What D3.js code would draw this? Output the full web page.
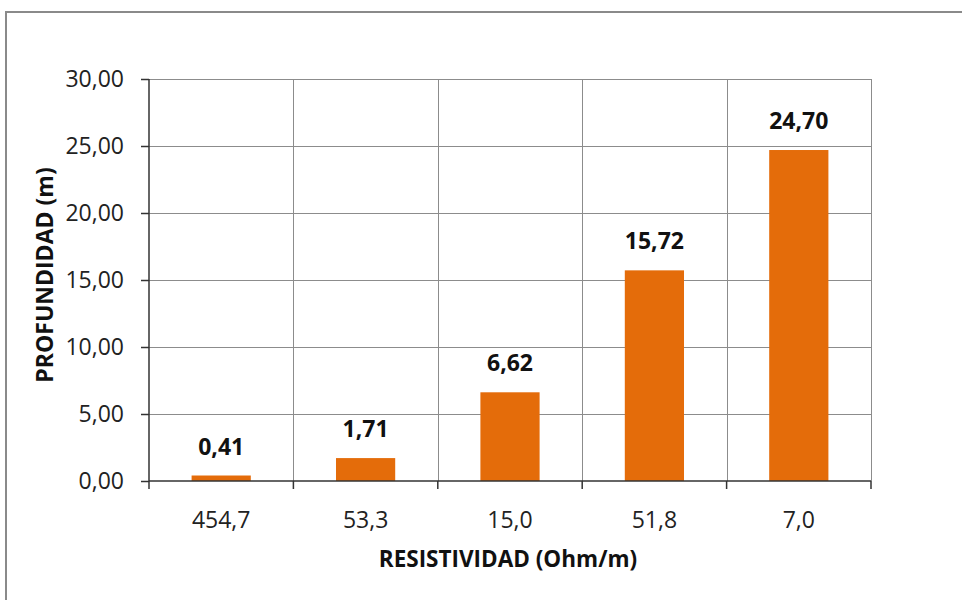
<!DOCTYPE html>
<html>
<head>
<meta charset="utf-8">
<script src="https://cdnjs.cloudflare.com/ajax/libs/d3/7.8.5/d3.min.js"></script>
<style>
  html, body { margin: 0; padding: 0; background: #fff; }
  svg { display: block; font-family: "Open Sans", "Noto Sans", sans-serif; }
</style>
</head>
<body>
<svg id="chart" width="962" height="600"></svg>
<script>
// Resistivity of each layer (category labels) and its depth in metres
const resistividad = ["454,7", "53,3", "15,0", "51,8", "7,0"];
const profundidad = [0.41, 1.71, 6.62, 15.72, 24.70];
const yTicks = [0, 5, 10, 15, 20, 25, 30];

const svg = d3.select("#chart");
const plot = { left: 149, right: 871, top: 79, bottom: 481 };
const fmt = v => v.toFixed(2).replace(".", ",");

// Outer chart frame
svg.append("rect")
  .attr("x", 6).attr("y", 12)
  .attr("width", 980).attr("height", 620)
  .attr("fill", "none")
  .attr("stroke", "#8a8a8a")
  .attr("stroke-width", 2);

const x = d3.scaleBand().domain(resistividad).range([plot.left, plot.right]).padding(0);
const y = d3.scaleLinear().domain([0, 30]).range([plot.bottom, plot.top]);

// Horizontal gridlines
svg.append("g").selectAll("line").data(yTicks.slice(1)).join("line")
  .attr("x1", plot.left).attr("x2", plot.right)
  .attr("y1", d => Math.round(y(d)) + 0.5).attr("y2", d => Math.round(y(d)) + 0.5)
  .attr("stroke", "#8c8c8c").attr("stroke-width", 1);

// Vertical gridlines at category boundaries
const bounds = resistividad.map(c => x(c)).concat([plot.right]).slice(1);
svg.append("g").selectAll("line").data(bounds).join("line")
  .attr("x1", d => Math.round(d) + 0.5).attr("x2", d => Math.round(d) + 0.5)
  .attr("y1", plot.top).attr("y2", plot.bottom)
  .attr("stroke", "#8c8c8c").attr("stroke-width", 1);

// Bars
const barW = x.bandwidth() * 0.41;
svg.append("g").selectAll("rect").data(profundidad).join("rect")
  .attr("x", (d, i) => x(resistividad[i]) + (x.bandwidth() - barW) / 2)
  .attr("y", d => y(d))
  .attr("width", barW)
  .attr("height", d => y(0) - y(d))
  .attr("fill", "#E46C0A");

// Value labels above bars
svg.append("g").selectAll("text").data(profundidad).join("text")
  .attr("x", (d, i) => x(resistividad[i]) + x.bandwidth() / 2)
  .attr("y", d => y(d) - 21)
  .attr("text-anchor", "middle")
  .attr("font-size", 23)
  .attr("font-weight", "bold")
  .attr("fill", "#111")
  .text(d => fmt(d));

// Y axis
const yAxis = d3.axisLeft(y).tickValues(yTicks).tickSize(8).tickPadding(17).tickFormat(fmt);
const gy = svg.append("g").attr("transform", `translate(${plot.left},0)`).call(yAxis);
gy.select(".domain").attr("stroke", "#333").attr("stroke-width", 1.5).attr("d", `M0,${plot.top}V${plot.bottom}`);
gy.selectAll(".tick line").attr("stroke", "#333").attr("stroke-width", 1.5);
gy.selectAll(".tick text").attr("font-size", 23).attr("fill", "#222").attr("font-family", "'Open Sans', sans-serif");

// X axis with ticks at category boundaries
const xAxisG = svg.append("g").attr("transform", `translate(0,${plot.bottom})`);
xAxisG.append("line")
  .attr("x1", plot.left).attr("x2", plot.right)
  .attr("stroke", "#333").attr("stroke-width", 1.5);
xAxisG.selectAll("line.tk").data([plot.left].concat(bounds)).join("line")
  .attr("class", "tk")
  .attr("x1", d => d).attr("x2", d => d)
  .attr("y1", 0).attr("y2", 8)
  .attr("stroke", "#333").attr("stroke-width", 1.5);
xAxisG.selectAll("text").data(resistividad).join("text")
  .attr("x", d => x(d) + x.bandwidth() / 2)
  .attr("y", 47)
  .attr("text-anchor", "middle")
  .attr("font-size", 23)
  .attr("fill", "#222")
  .text(d => d);

// Axis titles
svg.append("text")
  .attr("x", 508).attr("y", 567)
  .attr("text-anchor", "middle")
  .attr("font-size", 22.5).attr("font-weight", "bold").attr("fill", "#111")
  .text("RESISTIVIDAD (Ohm/m)");

svg.append("text")
  .attr("transform", `translate(53,275) rotate(-90)`)
  .attr("text-anchor", "middle")
  .attr("font-size", 23).attr("font-weight", "bold").attr("fill", "#111")
  .text("PROFUNDIDAD (m)");
</script>
</body>
</html>
